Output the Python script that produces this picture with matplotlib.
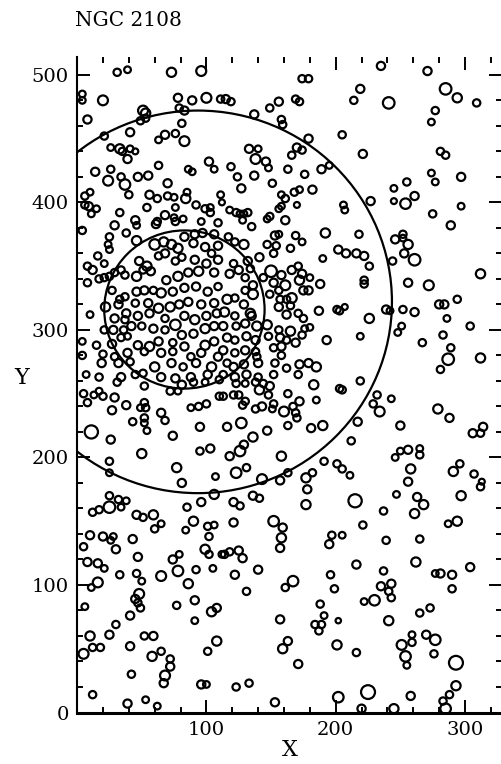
import matplotlib
matplotlib.use("Agg")
import matplotlib.pyplot as plt
from matplotlib.collections import EllipseCollection
from matplotlib.patches import Circle
from matplotlib.ticker import MultipleLocator, FixedLocator, FixedFormatter

# star positions (X, Y) and symbol diameters (data units)
star_x = [
    31, 39, 73, 96, 4, 4, 20, 78, 89, 100, 111, 51, 53, 79, 83, 8, 49, 53, 81, 21,
    41, 63, 68, 76, 83, 26, 33, 35, 41, 45, 39, 14, 26, 63, 86, 89, 102, 106, 24, 34,
    37, 47, 55, 70, 6, 10, 40, 56, 62, 70, 75, 84, 85, 92, 99, 103, 103, 111, 112, 6,
    9, 15, 11, 33, 54, 76, 68, 75, 45, 62, 96, 82,
    174, 179, 219, 115, 119, 149, 156, 169, 172, 214, 137, 158, 159, 205, 179, 221, 133, 140, 170, 174,
    166, 138, 146, 148, 119, 163, 176, 189, 195, 124, 137, 127, 151, 168, 172, 182, 158, 161, 170, 158,
    156, 206, 207, 118, 123, 126, 129, 132, 128, 147, 149, 161,
    235, 271, 285, 294, 309, 241, 277, 274, 281, 285, 274, 277, 297, 255, 245, 261, 254, 245, 227, 275,
    297,
    4, 29, 38, 46, 61, 76, 83, 91, 97, 106, 109, 25, 24, 25, 46, 60, 67, 73, 78, 90,
    99, 109, 16, 21, 8, 12, 17, 21, 25, 29, 34, 48, 54, 57, 63, 68, 76, 81, 91, 100,
    104, 109, 37, 46, 51, 69, 78, 86, 94, 106, 8, 27, 33, 37, 46, 52, 59, 65, 74, 83,
    92, 101, 109, 22, 32, 38, 45, 55, 63, 72, 79, 86, 96, 106, 10, 29, 37, 47, 56, 68,
    76, 83, 91, 100, 108, 21, 28, 36, 42, 50, 59, 68, 81, 90, 99, 106, 4, 15, 27, 34,
    39, 47, 56, 63, 74, 83, 99, 106, 4, 20, 29, 39, 52, 65, 74, 88, 96, 109, 19, 32,
    41, 60, 73, 82, 92, 104, 7, 17, 34, 45, 51, 65, 76, 88, 101, 110,
    135, 192, 218, 117, 122, 129, 153, 156, 147, 154, 152, 169, 174, 165, 202, 208, 216, 190, 121, 132,
    141, 118, 125, 130, 134, 150, 158, 166, 171, 174, 180, 188, 172, 161, 152, 156, 136, 130, 144, 116,
    122, 129, 136, 149, 157, 162, 166, 175, 179, 187, 201, 203, 207, 114, 122, 134, 135, 156, 165, 162,
    171, 175, 113, 123, 130, 139, 147, 156, 165, 176, 180, 174, 116, 122, 131, 138, 148, 157, 162, 169,
    193, 219, 113, 122, 130, 138, 152, 158, 158, 116, 121, 129, 139, 140, 153, 162, 172, 179, 185, 113,
    122, 131, 140, 152, 171,
    289, 246, 252, 252, 256, 222, 226, 244, 253, 261, 312, 222, 222, 256, 272, 294, 280, 284, 239, 242,
    252, 261, 226, 286, 304, 251, 248, 283, 267, 289, 287, 281, 312,
    31, 52, 81, 90, 99, 5, 13, 17, 20, 8, 29, 72, 78, 110, 52, 53, 49, 38, 27, 88,
    94, 100, 65, 68, 43, 52, 52, 54, 11, 95, 74, 26, 50, 95, 103, 25, 25, 77, 81, 107,
    106, 25, 32, 38, 34, 25, 12, 17, 96, 85, 46, 51, 59, 90, 65, 60, 101, 106, 102, 84,
    10, 20, 28, 26, 43,
    123, 130, 138, 144, 149, 141, 148, 183, 203, 205, 219, 113, 121, 125, 163, 185, 130, 128, 138, 143,
    152, 151, 160, 167, 172, 169, 170, 116, 127, 136, 147, 163, 181, 190, 217, 212, 129, 126, 118, 158,
    131, 123, 191, 201, 205, 211, 163, 157, 143, 182, 177, 178, 177, 215, 136, 141, 121, 126, 121, 152,
    159, 158, 197, 205, 221,
    232, 243, 229, 234, 250, 279, 288, 314, 306, 312, 246, 250, 256, 265, 265, 258, 256, 296, 291, 307,
    313, 312, 247, 263, 268, 261, 297, 237, 287, 294, 239, 265,
    5, 30, 47, 8, 16, 21, 74, 79, 99, 102, 112, 78, 92, 105, 33, 46, 50, 65, 16, 11,
    86, 48, 45, 47, 49, 91, 77, 6, 108, 104, 41, 30, 91, 10, 25, 52, 59, 108, 12, 18,
    5, 41, 65, 58, 72, 72, 101, 68, 67, 42, 96, 100, 12, 39, 53, 62,
    114, 118, 125, 128, 157, 195, 216, 122, 140, 167, 161, 196, 199, 131, 222, 188, 191, 184, 189, 187,
    202, 157, 163, 159, 201, 216, 171, 123, 133, 153, 202, 220,
    262, 304, 237, 277, 281, 290, 235, 243, 241, 243, 290, 230, 265, 273, 241, 259, 259, 251, 254, 255,
    270, 277, 276, 293, 225, 293, 288, 283, 285, 258, 245,
]
star_y = [
    502, 504, 502, 503, 485, 480, 480, 482, 480, 482, 481, 472, 470, 474, 472, 465, 464, 466, 462, 452,
    455, 449, 453, 454, 448, 443, 442, 440, 442, 440, 434, 424, 426, 429, 426, 424, 432, 426, 417, 420,
    414, 420, 421, 415, 405, 408, 406, 406, 403, 405, 404, 403, 408, 398, 395, 396, 392, 406, 400, 398,
    397, 395, 391, 392, 396, 396, 390, 388, 386, 385, 385, 387,
    497, 497, 489, 481, 479, 474, 479, 481, 479, 480, 469, 465, 461, 453, 450, 438, 442, 442, 443, 441,
    437, 434, 432, 427, 428, 426, 422, 426, 429, 420, 421, 411, 415, 408, 410, 410, 406, 403, 398, 397,
    395, 398, 394, 394, 392, 391, 391, 392, 386, 387, 389, 386,
    507, 503, 489, 482, 478, 478, 472, 463, 440, 437, 423, 416, 420, 416, 411, 405, 399, 401, 401, 391,
    397,
    378, 382, 376, 382, 383, 385, 373, 375, 376, 375, 384, 373, 367, 363, 370, 367, 369, 367, 364, 368,
    365, 366, 358, 352, 350, 347, 340, 341, 342, 345, 347, 354, 350, 346, 358, 360, 354, 357, 355, 352,
    360, 355, 343, 342, 347, 339, 342, 345, 346, 345, 337, 331, 324, 326, 330, 331, 331, 329, 330, 333,
    334, 330, 334, 318, 320, 313, 321, 321, 317, 318, 320, 322, 320, 321, 312, 309, 308, 311, 313, 309,
    304, 311, 308, 311, 313, 300, 300, 300, 303, 303, 301, 300, 296, 297, 301, 303, 291, 288, 289, 294,
    295, 288, 287, 291, 290, 287, 288, 291, 280, 281, 279, 282, 283, 282, 283, 279, 282, 279, 274, 274,
    275, 271, 274, 271, 274, 271, 265, 263, 263, 265, 266, 263, 262, 263, 265, 261,
    381, 376, 375, 373, 369, 367, 374, 375, 367, 366, 360, 374, 369, 364, 363, 360, 360, 356, 352, 354,
    357, 344, 347, 341, 348, 346, 343, 347, 350, 344, 341, 336, 339, 335, 337, 331, 335, 331, 341, 324,
    325, 320, 328, 328, 324, 324, 325, 331, 331, 315, 316, 315, 318, 314, 311, 313, 311, 318, 319, 312,
    313, 309, 303, 303, 305, 303, 304, 300, 299, 301, 302, 296, 294, 292, 295, 292, 295, 294, 292, 290,
    292, 295, 284, 282, 284, 283, 286, 287, 280, 274, 271, 273, 279, 274, 274, 270, 273, 274, 271, 265,
    263, 265, 263, 265, 265,
    382, 371, 375, 372, 367, 358, 350, 354, 360, 355, 344, 339, 336, 337, 335, 324, 320, 320, 316, 315,
    316, 314, 309, 309, 303, 303, 298, 296, 290, 286, 277, 269, 278,
    259, 256, 257, 259, 259, 250, 249, 252, 248, 243, 247, 252, 252, 248, 243, 239, 239, 241, 237, 239,
    240, 242, 235, 229, 228, 231, 227, 221, 220, 224, 217, 214, 203, 205, 207, 197, 188, 192, 180, 185,
    171, 170, 167, 166, 161, 161, 157, 159, 165, 161, 155, 153, 155, 150, 148, 144, 146, 147, 138, 143,
    139, 138, 138, 135, 136,
    258, 258, 259, 258, 256, 253, 249, 257, 254, 253, 260, 248, 249, 249, 250, 245, 244, 241, 238, 240,
    242, 238, 236, 240, 244, 235, 231, 224, 227, 216, 221, 225, 223, 225, 228, 213, 210, 205, 201, 201,
    192, 188, 197, 195, 191, 186, 188, 182, 183, 188, 184, 175, 163, 166, 170, 168, 165, 162, 149, 150,
    145, 137, 139, 139, 147,
    249, 246, 242, 236, 225, 238, 231, 224, 219, 219, 200, 205, 206, 207, 202, 191, 181, 195, 189, 187,
    181, 177, 171, 169, 163, 156, 170, 158, 148, 150, 135, 136,
    130, 128, 122, 118, 117, 113, 120, 124, 128, 124, 124, 111, 112, 113, 108, 109, 103, 107, 102, 98,
    101, 93, 89, 86, 82, 88, 84, 83, 82, 79, 76, 69, 72, 60, 61, 60, 60, 56, 51, 51,
    46, 52, 48, 44, 42, 36, 48, 29, 23, 30, 22, 22, 14, 7, 10, 5,
    124, 126, 127, 121, 129, 132, 116, 108, 112, 103, 98, 108, 97, 95, 87, 85, 76, 69, 69, 64,
    72, 73, 56, 50, 53, 47, 38, 20, 23, 8, 12, 3,
    118, 114, 111, 109, 109, 108, 99, 101, 95, 90, 97, 88, 78, 82, 72, 61, 55, 53, 44, 37,
    61, 57, 46, 39, 16, 21, 14, 9, 3, 13, 3,
]
star_d = [
    5.7, 5.2, 7.2, 7.7, 5.2, 5.2, 7.7, 6.4, 6.4, 7.7, 5.7, 7.7, 7.2, 5.7, 6.4, 6.4, 5.7, 5.7, 5.7, 5.7,
    6.4, 5.2, 6.4, 5.7, 7.7, 5.2, 7.2, 5.7, 5.2, 4.6, 6.4, 6.4, 5.7, 5.7, 5.2, 5.2, 6.4, 5.2, 7.7, 5.7,
    8.2, 6.4, 6.4, 6.4, 5.7, 5.2, 5.7, 6.4, 5.7, 5.7, 5.2, 7.2, 5.2, 5.7, 5.7, 5.2, 5.7, 5.2, 4.6, 5.7,
    6.4, 5.2, 5.2, 5.7, 5.7, 5.2, 6.4, 5.2, 6.4, 5.7, 5.2, 5.2,
    5.7, 5.7, 6.4, 6.4, 5.7, 5.7, 6.4, 5.7, 5.7, 5.7, 6.4, 5.7, 5.7, 5.7, 6.4, 6.4, 6.4, 5.2, 6.4, 5.7,
    5.7, 7.7, 6.4, 5.2, 5.7, 5.7, 5.7, 6.4, 5.2, 5.7, 6.4, 6.4, 5.7, 5.7, 5.2, 6.4, 5.2, 5.7, 4.6, 5.2,
    5.2, 5.2, 5.2, 5.2, 5.7, 5.2, 5.2, 5.7, 5.2, 5.2, 5.7, 6.4,
    6.4, 6.4, 9.0, 7.2, 5.7, 9.0, 5.7, 5.2, 5.7, 5.7, 5.2, 5.2, 6.4, 5.7, 5.2, 6.4, 8.2, 4.6, 6.4, 5.7,
    5.2,
    5.7, 6.4, 5.7, 5.2, 6.4, 5.7, 6.4, 6.4, 6.4, 6.4, 5.7, 5.7, 5.2, 5.2, 7.2, 8.2, 7.2, 7.2, 7.2, 6.4,
    6.4, 6.4, 5.7, 5.2, 5.7, 6.4, 5.7, 5.7, 5.7, 5.7, 5.7, 6.4, 7.2, 6.4, 5.7, 6.4, 5.7, 5.7, 6.4, 6.4,
    5.7, 6.4, 5.7, 7.2, 5.7, 6.4, 7.2, 6.4, 7.2, 6.4, 5.7, 5.7, 5.7, 5.7, 6.4, 6.4, 5.7, 7.2, 6.4, 6.4,
    6.4, 6.4, 5.7, 7.2, 6.4, 6.4, 5.7, 6.4, 7.2, 7.2, 6.4, 6.4, 6.4, 6.4, 5.2, 6.4, 5.7, 6.4, 6.4, 5.7,
    8.2, 6.4, 7.2, 6.4, 6.4, 5.7, 6.4, 5.7, 6.4, 5.7, 6.4, 5.7, 6.4, 6.4, 7.2, 6.4, 5.2, 5.7, 6.4, 5.7,
    5.2, 6.4, 7.2, 6.4, 5.7, 6.4, 7.2, 6.4, 5.7, 5.7, 5.7, 6.4, 5.7, 6.4, 5.7, 5.7, 6.4, 6.4, 6.4, 6.4,
    5.7, 7.2, 6.4, 5.7, 6.4, 7.2, 5.2, 5.7, 6.4, 5.7, 5.7, 6.4, 6.4, 6.4, 6.4, 5.7,
    5.7, 7.2, 5.7, 5.7, 5.7, 7.2, 6.4, 5.2, 5.7, 5.7, 5.7, 5.7, 5.2, 5.7, 6.4, 6.4, 6.4, 5.2, 5.7, 6.4,
    6.4, 6.4, 6.4, 5.7, 5.7, 9.0, 6.4, 6.4, 5.7, 6.4, 5.2, 6.4, 7.2, 7.7, 6.4, 5.7, 6.4, 5.7, 5.7, 7.2,
    5.7, 6.4, 7.7, 5.7, 5.7, 5.7, 7.7, 6.4, 6.4, 6.4, 5.7, 5.7, 4.6, 7.2, 5.7, 7.2, 6.4, 6.4, 5.7, 6.4,
    5.7, 5.7, 6.4, 5.7, 6.4, 7.2, 7.2, 5.7, 7.2, 5.2, 5.2, 5.7, 6.4, 5.7, 6.4, 6.4, 5.7, 6.4, 5.7, 6.4,
    6.4, 5.2, 6.4, 5.7, 6.4, 5.7, 5.7, 6.4, 5.7, 5.7, 6.4, 6.4, 5.7, 6.4, 5.7, 5.7, 6.4, 6.4, 7.2, 5.7,
    6.4, 6.4, 5.7, 5.7, 5.7,
    6.4, 6.4, 5.7, 5.2, 7.2, 6.4, 5.7, 5.7, 6.4, 9.0, 7.2, 5.7, 5.7, 6.4, 7.7, 5.7, 6.4, 6.4, 6.4, 5.2,
    5.7, 6.4, 7.2, 5.2, 5.7, 5.2, 5.2, 5.7, 5.7, 5.7, 9.0, 5.7, 7.2,
    5.7, 5.7, 6.4, 5.7, 5.2, 5.7, 5.2, 5.2, 5.7, 5.7, 6.4, 5.7, 5.2, 5.7, 5.7, 5.7, 5.2, 6.4, 6.4, 5.2,
    5.7, 5.7, 6.4, 5.7, 5.7, 5.7, 5.2, 5.2, 10.3, 6.4, 6.4, 6.4, 7.2, 5.7, 6.4, 5.7, 5.2, 7.2, 6.4, 5.2,
    7.2, 5.7, 5.7, 5.2, 5.2, 9.0, 5.7, 5.7, 6.4, 5.7, 6.4, 5.7, 7.2, 7.2, 5.2, 5.7, 5.7, 5.2, 5.7, 5.2,
    6.4, 6.4, 5.2, 5.2, 6.4,
    5.7, 5.2, 5.7, 5.7, 6.4, 7.2, 5.7, 7.2, 5.7, 5.7, 5.7, 5.7, 5.7, 5.7, 5.7, 5.2, 5.7, 5.7, 5.7, 6.4,
    5.7, 5.2, 7.7, 5.7, 6.4, 5.7, 5.7, 6.4, 8.2, 7.2, 6.4, 5.7, 6.4, 7.2, 6.4, 5.7, 6.4, 8.2, 6.4, 7.2,
    5.7, 8.2, 5.7, 5.7, 5.7, 5.2, 5.7, 6.4, 7.7, 5.7, 7.2, 6.4, 7.2, 10.3, 6.4, 5.7, 6.4, 5.7, 6.4, 8.2,
    6.4, 7.2, 5.7, 5.2, 5.7,
    5.7, 5.2, 5.7, 7.7, 6.4, 7.2, 6.4, 6.4, 6.4, 5.7, 5.2, 5.2, 6.4, 5.2, 5.7, 7.2, 6.4, 5.7, 7.2, 5.7,
    4.6, 5.7, 5.2, 6.4, 7.2, 7.2, 7.2, 5.7, 5.2, 7.2, 5.7, 5.7,
    5.7, 6.4, 6.4, 6.4, 6.4, 5.2, 6.4, 5.2, 7.2, 5.7, 5.2, 8.2, 5.7, 5.2, 5.7, 5.7, 5.2, 7.7, 7.7, 5.2,
    7.2, 7.7, 6.4, 5.7, 5.7, 6.4, 5.7, 5.2, 6.4, 7.2, 6.4, 5.7, 5.2, 7.2, 6.4, 5.7, 6.4, 7.2, 5.7, 5.7,
    7.7, 6.4, 5.7, 7.2, 5.7, 6.4, 5.7, 7.7, 6.4, 5.7, 6.4, 5.2, 5.7, 6.4, 5.2, 5.2,
    5.7, 5.7, 6.4, 6.4, 6.4, 6.4, 6.4, 6.4, 6.4, 8.2, 5.7, 5.7, 5.7, 5.7, 5.2, 5.7, 5.2, 5.7, 5.7, 5.7,
    4.2, 6.4, 6.4, 7.2, 7.2, 5.7, 6.4, 5.7, 5.7, 6.4, 8.2, 6.4,
    7.2, 6.4, 5.7, 5.2, 6.4, 6.4, 6.4, 6.4, 5.7, 5.7, 5.7, 8.2, 5.7, 5.7, 7.2, 5.2, 5.7, 7.7, 8.2, 5.2,
    6.4, 8.2, 5.7, 10.8, 10.8, 7.2, 5.7, 5.7, 8.2, 6.4, 7.2,
]

# cluster boundary circles: (centre X, centre Y, radius)
outer_ring = (93.5, 322.0, 150.0)
inner_ring = (83.0, 316.0, 62.0)

x_major = [0, 100, 200, 300]
x_labels = ["", "100", "200", "300"]
y_major = [0, 100, 200, 300, 400, 500]
y_labels = ["0", "100", "200", "300", "400", "500"]

n = min(len(star_x), len(star_y), len(star_d))
star_x, star_y, star_d = star_x[:n], star_y[:n], star_d[:n]

W, H = 502, 764
fig = plt.figure(figsize=(W / 100, H / 100), dpi=100)
ax = fig.add_axes([77.1 / W, (H - 712.5) / H, 425.4 / W, 655.5 / H])
ax.set_xlim(0, 329)
ax.set_ylim(0, 514)

ec = EllipseCollection(star_d, star_d, [0] * n, units="xy",
                       offsets=list(zip(star_x, star_y)),
                       offset_transform=ax.transData,
                       facecolors="none", edgecolors="black", linewidths=1.6)
ax.add_collection(ec)

for cx, cy, r in (outer_ring, inner_ring):
    ax.add_patch(Circle((cx, cy), r, fill=False, edgecolor="black", linewidth=1.6))

ax.xaxis.set_major_locator(FixedLocator(x_major))
ax.xaxis.set_major_formatter(FixedFormatter(x_labels))
ax.yaxis.set_major_locator(FixedLocator(y_major))
ax.yaxis.set_major_formatter(FixedFormatter(y_labels))
ax.xaxis.set_minor_locator(MultipleLocator(20))
ax.yaxis.set_minor_locator(MultipleLocator(20))
ax.tick_params(which="both", direction="in", top=True, right=True, width=1.4, color="black")
ax.tick_params(which="major", length=9.5, pad=6, labelsize=14)
ax.tick_params(which="minor", length=4.5)
for lab in ax.get_xticklabels() + ax.get_yticklabels():
    lab.set_family("DejaVu Serif")

ax.spines["left"].set_linewidth(1.5)
ax.spines["bottom"].set_linewidth(2.2)
ax.spines["top"].set_visible(False)
ax.spines["right"].set_visible(False)

fig.text(75 / W, 1 - 20 / H, "NGC 2108", family="DejaVu Serif", fontsize=14.5,
         ha="left", va="center")
fig.text(22 / W, 1 - 378 / H, "Y", family="DejaVu Serif", fontsize=16,
         ha="center", va="center")
fig.text(290 / W, 1 - 750 / H, "X", family="DejaVu Serif", fontsize=16,
         ha="center", va="center")

fig.savefig("out.png", dpi=100)
